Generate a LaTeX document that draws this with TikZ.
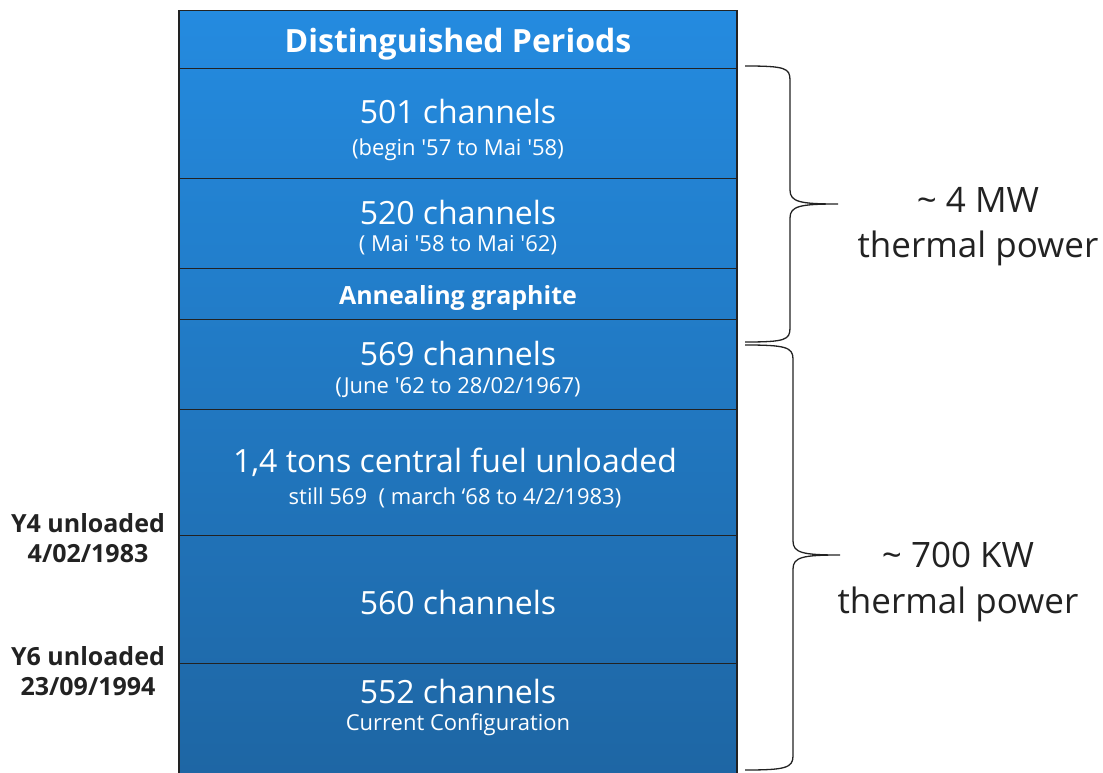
\documentclass[tikz,border=0pt]{standalone}
\usepackage{fontspec}
\setmainfont{Open Sans}
\usepackage{tikz}
\definecolor{boxtop}{RGB}{36,139,224}
\definecolor{boxbot}{RGB}{30,102,164}
\definecolor{ink}{RGB}{34,34,34}
\newcommand{\fs}[1]{\fontsize{#1}{1.15\dimexpr#1pt\relax}\selectfont}
\newcommand{\q}{\textquotesingle}

\begin{document}
\begin{tikzpicture}[x=1pt,y=-1pt,
    rowbox/.style={draw=ink,line width=1.4pt,minimum width=558pt,inner sep=0pt,anchor=north},
    main/.style={text=white,font=\fs{32}},
    sub/.style={text=white,font=\fs{22}},
    hdr/.style={text=white,font=\bfseries\fs{32}},
    side/.style={text=ink,font=\bfseries\fs{25},align=center},
    power/.style={text=ink,font=\fs{35},align=center},
    brace/.style={draw=ink,line width=1.3pt}]
        \useasboundingbox (0,0) rectangle (1103,773);

        \foreach \ya/\yb/\nm in {10/68/title,68/178/r501,178/268/r520,268/319/anneal,
                                 319/409/r569,409/535/fuel,535/663/r560,663/775/r552}{
          \pgfmathtruncatemacro{\pa}{(773-\ya)/7.63}
          \pgfmathtruncatemacro{\pb}{max(0,(773-\yb)/7.63)}
          \node[rowbox,minimum height=(\yb-\ya)*1pt,
                top color=boxtop!\pa!boxbot,bottom color=boxtop!\pb!boxbot] (\nm) at (458,\ya) {};
        }

        \path
        (458,44) node[hdr](t0) {Distinguished Periods}
        (458,112) node[main](t1) {501 channels}
        (458,150) node[sub](s1) {(begin \q57 to Mai \q58)}
        (458,212) node[main](t2) {520 channels}
        (458,245) node[sub](s2) {( Mai \q58 to Mai \q62)}
        (458,298) node[hdr,font=\bfseries\fs{25}](t3) {Annealing graphite}
        (458,353) node[main](t4) {569 channels}
        (458,388) node[sub](s4) {(June \q62 to 28/02/1967)}
        (455,462) node[main](t5) {1,4 tons central fuel unloaded}
        (455,498) node[sub](s5) {still 569\ \ ( march ‘68 to 4/2/1983)}
        (458,602) node[main](t6) {560 channels}
        (458,691) node[main](t7) {552 channels}
        (458,725) node[sub](s7) {Current Configuration}
        ;

        \path
        (88,538) node[side](y4) {Y4 unloaded\\[2pt]4/02/1983}
        (88,671) node[side](y6) {Y6 unloaded\\[2pt]23/09/1994}
        ;

        \path
        (745,66) coordinate(b1a)
        (838,204) coordinate(b1t)
        (745,342) coordinate(b1b)
        (745,345) coordinate(b2a)
        (840,555) coordinate(b2t)
        (745,770) coordinate(b2b)
        ;
        \draw[brace] (b1a) .. controls (785,66) and (790,68) .. (790,80)
                     -- (790,190) .. controls (790,202) and (800,204) .. (b1t)
                     .. controls (800,204) and (790,206) .. (790,218)
                     -- (790,328) .. controls (790,340) and (785,342) .. (b1b);
        \draw[brace] (b2a) .. controls (785,345) and (793,347) .. (793,359)
                     -- (793,541) .. controls (793,553) and (803,555) .. (b2t)
                     .. controls (803,555) and (793,557) .. (793,569)
                     -- (793,756) .. controls (793,768) and (785,770) .. (b2b);

        \node[power] (p1) at (978,227) {\textasciitilde\ 4 MW\\[5pt]thermal power};
        \node[power] (p2) at (958,582) {\textasciitilde\ 700 KW\\[5pt]thermal power};
      \end{tikzpicture}
\end{document}
